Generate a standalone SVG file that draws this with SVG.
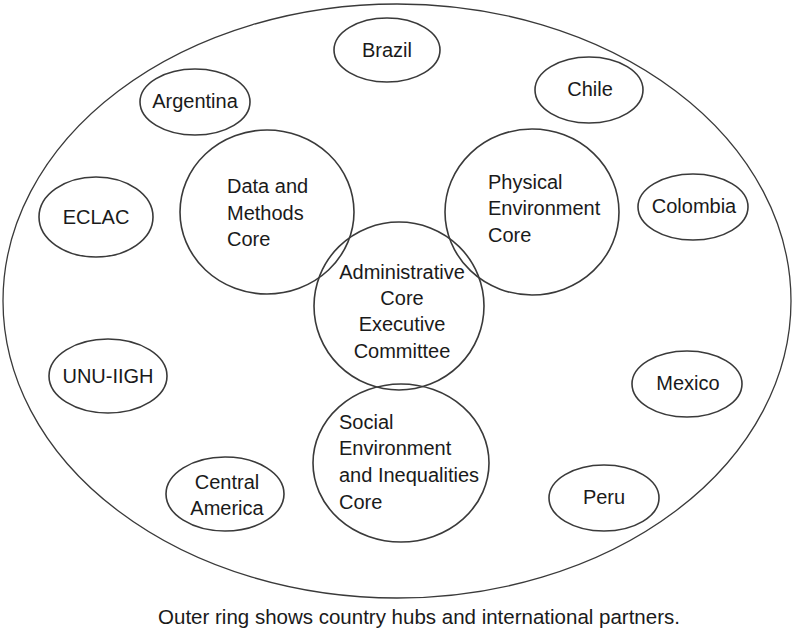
<svg xmlns="http://www.w3.org/2000/svg" width="796" height="632" viewBox="0 0 796 632">
<style>
.o{fill:none;stroke:#3a3a3a;stroke-width:1.6}
.ring{fill:none;stroke:#3a3a3a;stroke-width:1.3}
text{font-family:"Liberation Sans",Arial,sans-serif;font-size:20px;fill:#1a1a1a}
.c{text-anchor:middle}
</style>
<rect width="796" height="632" fill="#fff"/>
<g id="outer-ring"><ellipse class="ring" cx="397" cy="301" rx="394" ry="297"/></g>
<g id="brazil"><ellipse class="o" cx="387" cy="50" rx="53" ry="32"/><text class="c" x="387" y="57">Brazil</text></g>
<g id="argentina"><ellipse class="o" cx="195" cy="102" rx="55" ry="33"/><text class="c" x="195" y="108">Argentina</text></g>
<g id="chile"><ellipse class="o" cx="589" cy="90" rx="54" ry="33"/><text class="c" x="590" y="96">Chile</text></g>
<g id="eclac"><ellipse class="o" cx="96" cy="217" rx="57" ry="40"/><text class="c" x="96" y="224">ECLAC</text></g>
<g id="colombia"><ellipse class="o" cx="693" cy="207" rx="55" ry="33"/><text class="c" x="694" y="213">Colombia</text></g>
<g id="unu-iigh"><ellipse class="o" cx="108" cy="376" rx="59" ry="37"/><text class="c" x="108" y="383">UNU-IIGH</text></g>
<g id="mexico"><ellipse class="o" cx="687" cy="384" rx="55" ry="33"/><text class="c" x="688" y="390">Mexico</text></g>
<g id="central-america"><ellipse class="o" cx="225" cy="494" rx="59" ry="37"/><text class="c" x="227" y="489">Central</text><text class="c" x="227" y="515">America</text></g>
<g id="peru"><ellipse class="o" cx="604" cy="498" rx="55" ry="33"/><text class="c" x="604" y="504">Peru</text></g>
<g id="data-methods-core"><ellipse class="o" cx="267" cy="212" rx="87" ry="82"/><text x="227" y="193">Data and</text><text x="227" y="220">Methods</text><text x="227" y="246">Core</text></g>
<g id="physical-environment-core"><ellipse class="o" cx="532" cy="212" rx="87" ry="83"/><text x="488" y="189">Physical</text><text x="488" y="215">Environment</text><text x="488" y="242">Core</text></g>
<g id="administrative-core"><ellipse class="o" cx="399" cy="306" rx="85" ry="84"/><text class="c" x="402" y="279">Administrative</text><text class="c" x="402" y="305">Core</text><text class="c" x="402" y="331">Executive</text><text class="c" x="402" y="358">Committee</text></g>
<g id="social-environment-core"><ellipse class="o" cx="401" cy="463" rx="88" ry="79"/><text x="339" y="429">Social</text><text x="339" y="455">Environment</text><text x="339" y="482">and Inequalities</text><text x="339" y="509">Core</text></g>
<g id="connectors"></g>
<text class="c" x="419" y="624" style="font-size:20.5px">Outer ring shows country hubs and international partners.</text>
</svg>
